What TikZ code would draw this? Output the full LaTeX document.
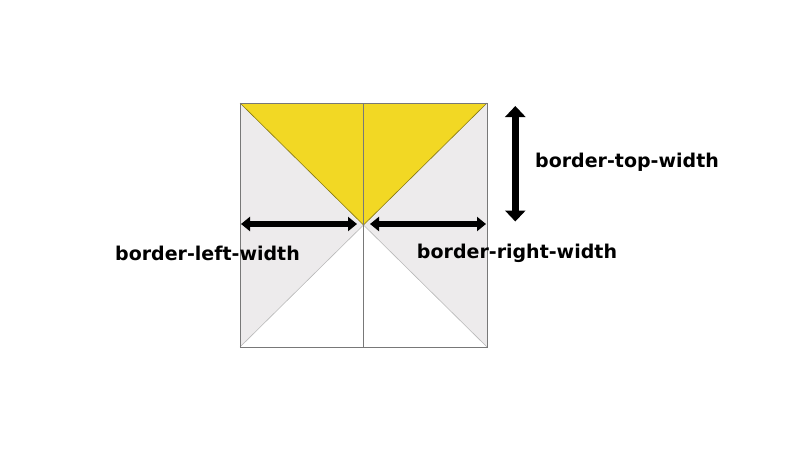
\documentclass[tikz,border=0pt]{standalone}
\usepackage{fontspec}
\setmainfont{DejaVu Sans}
\usetikzlibrary{arrows.meta,positioning}
\definecolor{TopYellow}{RGB}{242,216,36}
\definecolor{SideGray}{RGB}{237,235,236}
\definecolor{EdgeGray}{RGB}{120,120,120}
\tikzset{
    widtharr/.style={{Triangle[length=9pt,width=14pt]}-{Triangle[length=9pt,width=14pt]}, line width=6pt},
    bigarr/.style={{Triangle[length=11pt,width=20pt]}-{Triangle[length=11pt,width=20pt]}, line width=7.5pt},
    lbl/.style={font=\bfseries\fontsize{19}{22}\selectfont, inner sep=0pt},
    edge/.style={draw=EdgeGray, line width=0.8pt},
}

\begin{document}
\begin{tikzpicture}[x=1pt,y=-1pt]
\useasboundingbox (0,0) rectangle (800,450);
\coordinate (tl) at (240,103);
\coordinate (tr) at (487,103);
\coordinate (bl) at (240,347);
\coordinate (br) at (487,347);
\coordinate (tm) at (363.5,103);
\coordinate (bm) at (363.5,347);
\coordinate (c) at (363.5,225);

% border triangles
\fill[SideGray] (tl) -- (c) -- (bl) -- cycle;
\fill[SideGray] (tr) -- (c) -- (br) -- cycle;
\fill[TopYellow] (tl) -- (tr) -- (c) -- cycle;
\draw[TopYellow!55!black, line width=0.6pt] (tl) -- (c) -- (tr);
\draw[gray!55, line width=0.6pt] (bl) -- (c) -- (br);
\draw[edge] (tm) -- (bm);
\draw[edge] (tl) rectangle (br);

% width arrows
\coordinate (la) at (241,224);
\coordinate (lb) at (357,224);
\coordinate (ra) at (370,224);
\coordinate (rb) at (486,224);
\coordinate (ta) at (515.3,106);
\coordinate (tb) at (515.3,221.5);
\draw[widtharr] (la) -- (lb);
\draw[widtharr] (ra) -- (rb);
\draw[bigarr] (ta) -- (tb);

\node[lbl, anchor=west] (toplbl) at (535,162) {border-top-width};
\node[lbl] (leftlbl) at (207.5,253) {border-left-width};
\node[lbl] (rightlbl) at (517,253) {border-right-width};
\end{tikzpicture}
\end{document}
